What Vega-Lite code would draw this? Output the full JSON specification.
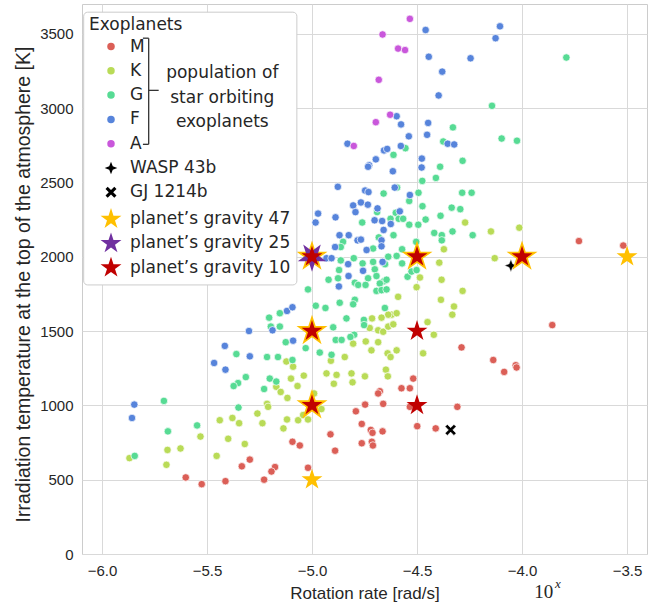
{
"$schema": "https://vega.github.io/schema/vega-lite/v6.json",
"width": 565, "height": 550,
"autosize": {"type": "none"},
"padding": {"left": 82, "top": 4, "right": 17, "bottom": 52},
"background": "white",
"config": {
  "view": {"stroke": "#cccccc", "strokeWidth": 1},
  "axis": {"labelFont": "Liberation Sans", "labelFontSize": 15, "labelColor": "#262626", "titleFont": "Liberation Sans", "titleFontSize": 17, "titleFontWeight": "normal", "titleColor": "#262626", "gridColor": "#d9d9d9", "domain": false, "ticks": false, "labelPadding": 9}
},
"datasets": {
"pts": [
{"x":-3.729,"y":2105,"cat":"M"},{"x":-3.518,"y":2075,"cat":"M"},{"x":-4.288,"y":1390,"cat":"M"},{"x":-3.856,"y":1540,"cat":"M"},{"x":-4.137,"y":1305,"cat":"M"},{"x":-4.030,"y":1270,"cat":"M"},{"x":-4.026,"y":1255,"cat":"M"},{"x":-4.085,"y":1225,"cat":"M"},{"x":-4.518,"y":1180,"cat":"M"},{"x":-4.574,"y":1115,"cat":"M"},{"x":-4.534,"y":1115,"cat":"M"},{"x":-4.677,"y":1095,"cat":"M"},{"x":-4.685,"y":1080,"cat":"M"},{"x":-4.747,"y":1005,"cat":"M"},{"x":-4.661,"y":1010,"cat":"M"},{"x":-4.791,"y":960,"cat":"M"},{"x":-4.308,"y":990,"cat":"M"},{"x":-4.499,"y":860,"cat":"M"},{"x":-4.411,"y":845,"cat":"M"},{"x":-4.763,"y":875,"cat":"M"},{"x":-4.720,"y":835,"cat":"M"},{"x":-4.712,"y":815,"cat":"M"},{"x":-4.664,"y":825,"cat":"M"},{"x":-4.763,"y":745,"cat":"M"},{"x":-4.715,"y":755,"cat":"M"},{"x":-4.710,"y":730,"cat":"M"},{"x":-4.534,"y":990,"cat":"M"},{"x":-5.093,"y":755,"cat":"M"},{"x":-5.058,"y":730,"cat":"M"},{"x":-4.912,"y":805,"cat":"M"},{"x":-4.890,"y":695,"cat":"M"},{"x":-5.296,"y":635,"cat":"M"},{"x":-5.334,"y":590,"cat":"M"},{"x":-5.176,"y":585,"cat":"M"},{"x":-5.193,"y":555,"cat":"M"},{"x":-5.228,"y":500,"cat":"M"},{"x":-5.412,"y":490,"cat":"M"},{"x":-5.525,"y":470,"cat":"M"},{"x":-5.601,"y":515,"cat":"M"},{"x":-5.019,"y":580,"cat":"M"},
{"x":-4.271,"y":2230,"cat":"K"},{"x":-4.148,"y":2170,"cat":"K"},{"x":-4.013,"y":2195,"cat":"K"},{"x":-4.372,"y":2050,"cat":"K"},{"x":-4.394,"y":1960,"cat":"K"},{"x":-4.130,"y":1990,"cat":"K"},{"x":-5.122,"y":1295,"cat":"K"},{"x":-5.090,"y":1260,"cat":"K"},{"x":-5.100,"y":1180,"cat":"K"},{"x":-5.069,"y":1130,"cat":"K"},{"x":-5.039,"y":1200,"cat":"K"},{"x":-5.170,"y":1125,"cat":"K"},{"x":-5.149,"y":1090,"cat":"K"},{"x":-5.117,"y":1050,"cat":"K"},{"x":-5.214,"y":1010,"cat":"K"},{"x":-5.209,"y":990,"cat":"K"},{"x":-5.260,"y":945,"cat":"K"},{"x":-5.236,"y":880,"cat":"K"},{"x":-5.379,"y":915,"cat":"K"},{"x":-5.347,"y":880,"cat":"K"},{"x":-5.439,"y":900,"cat":"K"},{"x":-5.399,"y":775,"cat":"K"},{"x":-5.320,"y":740,"cat":"K"},{"x":-5.454,"y":660,"cat":"K"},{"x":-5.119,"y":905,"cat":"K"},{"x":-5.136,"y":845,"cat":"K"},{"x":-5.066,"y":900,"cat":"K"},{"x":-5.042,"y":935,"cat":"K"},{"x":-5.019,"y":905,"cat":"K"},{"x":-4.990,"y":1080,"cat":"K"},{"x":-4.955,"y":975,"cat":"K"},{"x":-5.531,"y":790,"cat":"K"},{"x":-5.688,"y":700,"cat":"K"},{"x":-5.626,"y":710,"cat":"K"},{"x":-5.693,"y":600,"cat":"K"},{"x":-5.869,"y":645,"cat":"K"},{"x":-4.931,"y":1215,"cat":"K"},{"x":-4.883,"y":1205,"cat":"K"},{"x":-4.844,"y":1325,"cat":"K"},{"x":-4.812,"y":1215,"cat":"K"},{"x":-4.807,"y":1155,"cat":"K"},{"x":-4.748,"y":1195,"cat":"K"},{"x":-4.896,"y":1145,"cat":"K"},{"x":-4.714,"y":1585,"cat":"K"},{"x":-4.725,"y":1520,"cat":"K"},{"x":-4.717,"y":1370,"cat":"K"},{"x":-4.744,"y":1430,"cat":"K"},{"x":-4.804,"y":1415,"cat":"K"},{"x":-4.910,"y":1300,"cat":"K"},{"x":-4.486,"y":1860,"cat":"K"},{"x":-4.502,"y":1795,"cat":"K"},{"x":-4.383,"y":1845,"cat":"K"},{"x":-4.590,"y":1730,"cat":"K"},{"x":-4.283,"y":1770,"cat":"K"},{"x":-4.386,"y":1710,"cat":"K"},{"x":-4.324,"y":1665,"cat":"K"},{"x":-4.332,"y":1610,"cat":"K"},{"x":-4.621,"y":1610,"cat":"K"},{"x":-4.597,"y":1620,"cat":"K"},{"x":-4.637,"y":1610,"cat":"K"},{"x":-4.669,"y":1590,"cat":"K"},{"x":-4.685,"y":1505,"cat":"K"},{"x":-4.661,"y":1495,"cat":"K"},{"x":-4.637,"y":1530,"cat":"K"},{"x":-4.613,"y":1545,"cat":"K"},{"x":-4.685,"y":1425,"cat":"K"},{"x":-4.640,"y":1350,"cat":"K"},{"x":-4.597,"y":1370,"cat":"K"},{"x":-4.471,"y":1350,"cat":"K"},{"x":-4.420,"y":1475,"cat":"K"},{"x":-4.450,"y":1560,"cat":"K"},{"x":-4.648,"y":1240,"cat":"K"},{"x":-4.639,"y":1195,"cat":"K"},{"x":-4.626,"y":1325,"cat":"K"},
{"x":-3.789,"y":3340,"cat":"G"},{"x":-4.143,"y":3015,"cat":"G"},{"x":-4.329,"y":2870,"cat":"G"},{"x":-4.097,"y":2795,"cat":"G"},{"x":-4.024,"y":2780,"cat":"G"},{"x":-4.375,"y":2775,"cat":"G"},{"x":-4.555,"y":2730,"cat":"G"},{"x":-4.612,"y":2685,"cat":"G"},{"x":-4.283,"y":2645,"cat":"G"},{"x":-4.390,"y":2605,"cat":"G"},{"x":-4.410,"y":2530,"cat":"G"},{"x":-4.475,"y":2510,"cat":"G"},{"x":-4.595,"y":2465,"cat":"G"},{"x":-4.659,"y":2425,"cat":"G"},{"x":-4.493,"y":2430,"cat":"G"},{"x":-4.285,"y":2430,"cat":"G"},{"x":-4.240,"y":2430,"cat":"G"},{"x":-4.537,"y":2375,"cat":"G"},{"x":-4.474,"y":2340,"cat":"G"},{"x":-4.690,"y":2300,"cat":"G"},{"x":-4.601,"y":2295,"cat":"G"},{"x":-4.335,"y":2330,"cat":"G"},{"x":-4.294,"y":2320,"cat":"G"},{"x":-4.761,"y":2230,"cat":"G"},{"x":-4.626,"y":2255,"cat":"G"},{"x":-4.587,"y":2255,"cat":"G"},{"x":-4.566,"y":2255,"cat":"G"},{"x":-4.537,"y":2215,"cat":"G"},{"x":-4.494,"y":2215,"cat":"G"},{"x":-4.459,"y":2250,"cat":"G"},{"x":-4.388,"y":2275,"cat":"G"},{"x":-4.682,"y":2130,"cat":"G"},{"x":-4.612,"y":2145,"cat":"G"},{"x":-4.418,"y":2160,"cat":"G"},{"x":-4.382,"y":2145,"cat":"G"},{"x":-4.382,"y":2110,"cat":"G"},{"x":-4.331,"y":2170,"cat":"G"},{"x":-4.235,"y":2145,"cat":"G"},{"x":-4.852,"y":2100,"cat":"G"},{"x":-4.504,"y":2100,"cat":"G"},{"x":-4.863,"y":2065,"cat":"G"},{"x":-4.709,"y":2055,"cat":"G"},{"x":-4.637,"y":2000,"cat":"G"},{"x":-4.597,"y":2005,"cat":"G"},{"x":-4.571,"y":2050,"cat":"G"},{"x":-4.801,"y":1990,"cat":"G"},{"x":-4.759,"y":1955,"cat":"G"},{"x":-4.709,"y":1965,"cat":"G"},{"x":-4.652,"y":1950,"cat":"G"},{"x":-4.571,"y":1955,"cat":"G"},{"x":-4.863,"y":1975,"cat":"G"},{"x":-4.701,"y":1915,"cat":"G"},{"x":-4.693,"y":1870,"cat":"G"},{"x":-4.733,"y":1855,"cat":"G"},{"x":-4.657,"y":1835,"cat":"G"},{"x":-4.645,"y":1845,"cat":"G"},{"x":-4.677,"y":1820,"cat":"G"},{"x":-4.693,"y":1770,"cat":"G"},{"x":-4.669,"y":1775,"cat":"G"},{"x":-4.645,"y":1780,"cat":"G"},{"x":-4.545,"y":1865,"cat":"G"},{"x":-4.526,"y":1900,"cat":"G"},{"x":-4.502,"y":1910,"cat":"G"},{"x":-4.871,"y":1910,"cat":"G"},{"x":-4.876,"y":1855,"cat":"G"},{"x":-4.921,"y":1845,"cat":"G"},{"x":-4.796,"y":1825,"cat":"G"},{"x":-4.780,"y":1810,"cat":"G"},{"x":-4.745,"y":1810,"cat":"G"},{"x":-5.019,"y":1780,"cat":"G"},{"x":-4.982,"y":1670,"cat":"G"},{"x":-4.936,"y":1655,"cat":"G"},{"x":-5.153,"y":1620,"cat":"G"},{"x":-5.204,"y":1590,"cat":"G"},{"x":-5.196,"y":1530,"cat":"G"},{"x":-5.153,"y":1530,"cat":"G"},{"x":-4.899,"y":1525,"cat":"G"},{"x":-5.125,"y":1425,"cat":"G"},{"x":-5.030,"y":1385,"cat":"G"},{"x":-4.963,"y":1355,"cat":"G"},{"x":-5.360,"y":1345,"cat":"G"},{"x":-5.214,"y":1325,"cat":"G"},{"x":-5.162,"y":1325,"cat":"G"},{"x":-5.093,"y":1305,"cat":"G"},{"x":-4.907,"y":1340,"cat":"G"},{"x":-5.315,"y":1190,"cat":"G"},{"x":-5.352,"y":1150,"cat":"G"},{"x":-5.373,"y":1130,"cat":"G"},{"x":-5.201,"y":1180,"cat":"G"},{"x":-5.170,"y":1160,"cat":"G"},{"x":-5.228,"y":1110,"cat":"G"},{"x":-5.350,"y":985,"cat":"G"},{"x":-5.547,"y":865,"cat":"G"},{"x":-5.686,"y":825,"cat":"G"},{"x":-5.705,"y":1030,"cat":"G"},{"x":-5.844,"y":660,"cat":"G"},{"x":-4.799,"y":1475,"cat":"G"},{"x":-4.817,"y":1460,"cat":"G"},{"x":-4.753,"y":1575,"cat":"G"},{"x":-4.836,"y":1585,"cat":"G"},{"x":-4.887,"y":1440,"cat":"G"},{"x":-4.859,"y":1440,"cat":"G"},{"x":-4.796,"y":1710,"cat":"G"},{"x":-4.804,"y":1680,"cat":"G"},{"x":-4.868,"y":1690,"cat":"G"},{"x":-4.653,"y":1655,"cat":"G"},{"x":-4.752,"y":1540,"cat":"G"},
{"x":-4.459,"y":3525,"cat":"F"},{"x":-4.105,"y":3550,"cat":"F"},{"x":-4.126,"y":3470,"cat":"F"},{"x":-4.444,"y":3345,"cat":"F"},{"x":-4.245,"y":3335,"cat":"F"},{"x":-4.380,"y":3245,"cat":"F"},{"x":-4.397,"y":3085,"cat":"F"},{"x":-4.597,"y":2945,"cat":"F"},{"x":-4.576,"y":2890,"cat":"F"},{"x":-4.447,"y":2900,"cat":"F"},{"x":-4.539,"y":2810,"cat":"F"},{"x":-4.452,"y":2820,"cat":"F"},{"x":-4.831,"y":2760,"cat":"F"},{"x":-4.354,"y":2760,"cat":"F"},{"x":-4.323,"y":2755,"cat":"F"},{"x":-4.657,"y":2715,"cat":"F"},{"x":-4.642,"y":2725,"cat":"F"},{"x":-4.577,"y":2745,"cat":"F"},{"x":-4.696,"y":2655,"cat":"F"},{"x":-4.477,"y":2660,"cat":"F"},{"x":-4.728,"y":2615,"cat":"F"},{"x":-4.733,"y":2605,"cat":"F"},{"x":-4.478,"y":2600,"cat":"F"},{"x":-4.615,"y":2575,"cat":"F"},{"x":-4.877,"y":2470,"cat":"F"},{"x":-4.606,"y":2465,"cat":"F"},{"x":-4.747,"y":2445,"cat":"F"},{"x":-4.731,"y":2435,"cat":"F"},{"x":-4.534,"y":2415,"cat":"F"},{"x":-4.767,"y":2365,"cat":"F"},{"x":-4.804,"y":2345,"cat":"F"},{"x":-4.734,"y":2350,"cat":"F"},{"x":-4.688,"y":2325,"cat":"F"},{"x":-4.793,"y":2300,"cat":"F"},{"x":-4.582,"y":2305,"cat":"F"},{"x":-4.971,"y":2290,"cat":"F"},{"x":-4.983,"y":2230,"cat":"F"},{"x":-4.888,"y":2265,"cat":"F"},{"x":-4.702,"y":2245,"cat":"F"},{"x":-4.666,"y":2240,"cat":"F"},{"x":-4.625,"y":2220,"cat":"F"},{"x":-4.659,"y":2180,"cat":"F"},{"x":-4.869,"y":2145,"cat":"F"},{"x":-4.825,"y":2145,"cat":"F"},{"x":-4.783,"y":2110,"cat":"F"},{"x":-4.767,"y":2115,"cat":"F"},{"x":-4.669,"y":2110,"cat":"F"},{"x":-4.669,"y":2070,"cat":"F"},{"x":-4.890,"y":2065,"cat":"F"},{"x":-4.740,"y":2045,"cat":"F"},{"x":-4.931,"y":1990,"cat":"F"},{"x":-4.907,"y":1990,"cat":"F"},{"x":-4.828,"y":1950,"cat":"F"},{"x":-4.757,"y":1905,"cat":"F"},{"x":-4.664,"y":1965,"cat":"F"},{"x":-4.826,"y":1870,"cat":"F"},{"x":-4.872,"y":1800,"cat":"F"},{"x":-5.119,"y":1635,"cat":"F"},{"x":-5.093,"y":1660,"cat":"F"},{"x":-5.300,"y":1500,"cat":"F"},{"x":-5.188,"y":1505,"cat":"F"},{"x":-5.090,"y":1435,"cat":"F"},{"x":-5.415,"y":1400,"cat":"F"},{"x":-5.296,"y":1330,"cat":"F"},{"x":-5.466,"y":1285,"cat":"F"},{"x":-5.412,"y":1240,"cat":"F"},{"x":-5.846,"y":1005,"cat":"F"},{"x":-5.857,"y":915,"cat":"F"},
{"x":-4.534,"y":3600,"cat":"A"},{"x":-4.664,"y":3495,"cat":"A"},{"x":-4.590,"y":3400,"cat":"A"},{"x":-4.557,"y":3390,"cat":"A"},{"x":-4.682,"y":3190,"cat":"A"},{"x":-4.628,"y":2955,"cat":"A"},{"x":-4.696,"y":2905,"cat":"A"},{"x":-4.801,"y":2745,"cat":"A"}
],
"special": [
{"x":-4.053,"y":1940,"cat":"WASP 43b"},{"x":-4.340,"y":835,"cat":"GJ 1214b"}
],
"stars": [
{"x":-5.0,"y":2000,"cat":"planet’s gravity 47"},{"x":-4.5,"y":2000,"cat":"planet’s gravity 47"},{"x":-4.0,"y":2000,"cat":"planet’s gravity 47"},{"x":-3.5,"y":2000,"cat":"planet’s gravity 47"},{"x":-5.0,"y":1500,"cat":"planet’s gravity 47"},{"x":-5.0,"y":1000,"cat":"planet’s gravity 47"},{"x":-5.0,"y":500,"cat":"planet’s gravity 47"},
{"x":-5.0,"y":2000,"cat":"planet’s gravity 25"},
{"x":-5.0,"y":2000,"cat":"planet’s gravity 10"},{"x":-4.5,"y":2000,"cat":"planet’s gravity 10"},{"x":-4.0,"y":2000,"cat":"planet’s gravity 10"},{"x":-5.0,"y":1500,"cat":"planet’s gravity 10"},{"x":-5.0,"y":1000,"cat":"planet’s gravity 10"},{"x":-4.5,"y":1500,"cat":"planet’s gravity 10"},{"x":-4.5,"y":1000,"cat":"planet’s gravity 10"}
],
"one": [{}]
},
"layer": [
{
  "data": {"name": "pts"},
  "mark": {"type": "point", "filled": true, "opacity": 1, "stroke": "white", "strokeWidth": 0.7},
  "encoding": {
    "x": {"field": "x", "type": "quantitative", "scale": {"domain": [-6.095, -3.405], "nice": false, "zero": false},
          "axis": {"title": "Rotation rate [rad/s]", "values": [-6, -5.5, -5, -4.5, -4, -3.5], "format": ".1f", "titlePadding": 7}},
    "y": {"field": "y", "type": "quantitative", "scale": {"domain": [0, 3700], "nice": false, "zero": false},
          "axis": {"title": "Irradiation temperature at the top of the atmosphere [K]", "titleFontSize": 19.5, "titleY": 280, "format": "d", "values": [0, 500, 1000, 1500, 2000, 2500, 3000, 3500], "titlePadding": 6}},
    "color": {"field": "cat", "type": "nominal",
      "scale": {"domain": ["M", "K", "G", "F", "A", "WASP 43b", "GJ 1214b", "planet’s gravity 47", "planet’s gravity 25", "planet’s gravity 10"],
                "range": ["#db5f57", "#b9db57", "#57db94", "#5784db", "#c957db", "#000000", "#000000", "#ffc000", "#7030a0", "#c00000"]},
      "legend": {"title": "Exoplanets", "orient": "none", "legendX": 7, "legendY": 13, "padding": 0,
                 "titleFont": "DejaVu Sans", "titleFontSize": 17, "titleFontWeight": "normal", "titleColor": "#262626", "titlePadding": 4,
                 "labelFont": "DejaVu Sans", "labelFontSize": 17, "labelColor": "#262626", "labelLimit": 400,
                 "gridAlign": "all", "symbolOffset": 11, "labelOffset": 8, "rowPadding": 3.3, "symbolStrokeWidth": 0, "symbolOpacity": 1}},
    "shape": {"field": "cat", "type": "nominal",
      "scale": {"domain": ["M", "K", "G", "F", "A", "WASP 43b", "GJ 1214b", "planet’s gravity 47", "planet’s gravity 25", "planet’s gravity 10"],
                "range": ["circle", "circle", "circle", "circle", "circle",
                          "M0,-1L0.28,-0.28L1,0L0.28,0.28L0,1L-0.28,0.28L-1,0L-0.28,-0.28Z",
                          "M-1,-0.6L-0.6,-1L0,-0.4L0.6,-1L1,-0.6L0.4,0L1,0.6L0.6,1L0,0.4L-0.6,1L-1,0.6L-0.4,0Z",
                          "M0,-1L0.225,-0.309L0.951,-0.309L0.363,0.118L0.588,0.809L0,0.382L-0.588,0.809L-0.363,0.118L-0.951,-0.309L-0.225,-0.309Z",
                          "M0,-1L0.225,-0.309L0.951,-0.309L0.363,0.118L0.588,0.809L0,0.382L-0.588,0.809L-0.363,0.118L-0.951,-0.309L-0.225,-0.309Z",
                          "M0,-1L0.225,-0.309L0.951,-0.309L0.363,0.118L0.588,0.809L0,0.382L-0.588,0.809L-0.363,0.118L-0.951,-0.309L-0.225,-0.309Z"]}},
    "size": {"field": "cat", "type": "nominal",
      "scale": {"type": "ordinal", "domain": ["M", "K", "G", "F", "A", "WASP 43b", "GJ 1214b", "planet’s gravity 47", "planet’s gravity 25", "planet’s gravity 10"],
                "range": [56, 56, 56, 56, 56, 160, 121, 484, 484, 484]}}
  }
},
{
  "data": {"name": "special"},
  "mark": {"type": "point", "filled": true, "opacity": 1, "stroke": "white", "strokeWidth": 0.5},
  "encoding": {
    "x": {"field": "x", "type": "quantitative"},
    "y": {"field": "y", "type": "quantitative"},
    "color": {"field": "cat", "type": "nominal",
      "scale": {"domain": ["M", "K", "G", "F", "A", "WASP 43b", "GJ 1214b", "planet’s gravity 47", "planet’s gravity 25", "planet’s gravity 10"],
                "range": ["#db5f57", "#b9db57", "#57db94", "#5784db", "#c957db", "#000000", "#000000", "#ffc000", "#7030a0", "#c00000"]}},
    "shape": {"field": "cat", "type": "nominal",
      "scale": {"domain": ["M", "K", "G", "F", "A", "WASP 43b", "GJ 1214b", "planet’s gravity 47", "planet’s gravity 25", "planet’s gravity 10"],
                "range": ["circle", "circle", "circle", "circle", "circle",
                          "M0,-1L0.28,-0.28L1,0L0.28,0.28L0,1L-0.28,0.28L-1,0L-0.28,-0.28Z",
                          "M-1,-0.6L-0.6,-1L0,-0.4L0.6,-1L1,-0.6L0.4,0L1,0.6L0.6,1L0,0.4L-0.6,1L-1,0.6L-0.4,0Z",
                          "M0,-1L0.225,-0.309L0.951,-0.309L0.363,0.118L0.588,0.809L0,0.382L-0.588,0.809L-0.363,0.118L-0.951,-0.309L-0.225,-0.309Z",
                          "M0,-1L0.225,-0.309L0.951,-0.309L0.363,0.118L0.588,0.809L0,0.382L-0.588,0.809L-0.363,0.118L-0.951,-0.309L-0.225,-0.309Z",
                          "M0,-1L0.225,-0.309L0.951,-0.309L0.363,0.118L0.588,0.809L0,0.382L-0.588,0.809L-0.363,0.118L-0.951,-0.309L-0.225,-0.309Z"]}},
    "size": {"field": "cat", "type": "nominal",
      "scale": {"type": "ordinal", "domain": ["M", "K", "G", "F", "A", "WASP 43b", "GJ 1214b", "planet’s gravity 47", "planet’s gravity 25", "planet’s gravity 10"],
                "range": [56, 56, 56, 56, 56, 160, 121, 484, 484, 484]}}
  }
},
{
  "data": {"name": "stars"},
  "transform": [
    {"joinaggregate": [{"op": "count", "as": "n"}], "groupby": ["x", "y"]},
    {"filter": "datum.cat === 'planet’s gravity 47'"}
  ],
  "mark": {"type": "point", "filled": true, "opacity": 1, "strokeWidth": 0},
  "encoding": {
    "x": {"field": "x", "type": "quantitative"},
    "y": {"field": "y", "type": "quantitative"},
    "color": {"field": "cat", "type": "nominal",
      "scale": {"domain": ["M", "K", "G", "F", "A", "WASP 43b", "GJ 1214b", "planet’s gravity 47", "planet’s gravity 25", "planet’s gravity 10"],
                "range": ["#db5f57", "#b9db57", "#57db94", "#5784db", "#c957db", "#000000", "#000000", "#ffc000", "#7030a0", "#c00000"]}},
    "shape": {"field": "cat", "type": "nominal",
      "scale": {"domain": ["M", "K", "G", "F", "A", "WASP 43b", "GJ 1214b", "planet’s gravity 47", "planet’s gravity 25", "planet’s gravity 10"],
                "range": ["circle", "circle", "circle", "circle", "circle",
                          "M0,-1L0.28,-0.28L1,0L0.28,0.28L0,1L-0.28,0.28L-1,0L-0.28,-0.28Z",
                          "M-1,-0.6L-0.6,-1L0,-0.4L0.6,-1L1,-0.6L0.4,0L1,0.6L0.6,1L0,0.4L-0.6,1L-1,0.6L-0.4,0Z",
                          "M0,-1L0.225,-0.309L0.951,-0.309L0.363,0.118L0.588,0.809L0,0.382L-0.588,0.809L-0.363,0.118L-0.951,-0.309L-0.225,-0.309Z",
                          "M0,-1L0.225,-0.309L0.951,-0.309L0.363,0.118L0.588,0.809L0,0.382L-0.588,0.809L-0.363,0.118L-0.951,-0.309L-0.225,-0.309Z",
                          "M0,-1L0.225,-0.309L0.951,-0.309L0.363,0.118L0.588,0.809L0,0.382L-0.588,0.809L-0.363,0.118L-0.951,-0.309L-0.225,-0.309Z"]}},
    "size": {"condition": {"test": "datum.n > 1", "value": 1060}, "field": "cat", "type": "nominal",
      "scale": {"type": "ordinal", "domain": ["M", "K", "G", "F", "A", "WASP 43b", "GJ 1214b", "planet’s gravity 47", "planet’s gravity 25", "planet’s gravity 10"],
                "range": [56, 56, 56, 56, 56, 160, 121, 484, 484, 484]}}
  }
},
{
  "data": {"name": "stars"},
  "transform": [{"filter": "datum.cat === 'planet’s gravity 25'"}],
  "mark": {"type": "point", "filled": true, "opacity": 1, "strokeWidth": 0, "angle": 36, "size": 900},
  "encoding": {
    "x": {"field": "x", "type": "quantitative"},
    "y": {"field": "y", "type": "quantitative"},
    "color": {"field": "cat", "type": "nominal",
      "scale": {"domain": ["M", "K", "G", "F", "A", "WASP 43b", "GJ 1214b", "planet’s gravity 47", "planet’s gravity 25", "planet’s gravity 10"],
                "range": ["#db5f57", "#b9db57", "#57db94", "#5784db", "#c957db", "#000000", "#000000", "#ffc000", "#7030a0", "#c00000"]}},
    "shape": {"field": "cat", "type": "nominal",
      "scale": {"domain": ["M", "K", "G", "F", "A", "WASP 43b", "GJ 1214b", "planet’s gravity 47", "planet’s gravity 25", "planet’s gravity 10"],
                "range": ["circle", "circle", "circle", "circle", "circle",
                          "M0,-1L0.28,-0.28L1,0L0.28,0.28L0,1L-0.28,0.28L-1,0L-0.28,-0.28Z",
                          "M-1,-0.6L-0.6,-1L0,-0.4L0.6,-1L1,-0.6L0.4,0L1,0.6L0.6,1L0,0.4L-0.6,1L-1,0.6L-0.4,0Z",
                          "M0,-1L0.225,-0.309L0.951,-0.309L0.363,0.118L0.588,0.809L0,0.382L-0.588,0.809L-0.363,0.118L-0.951,-0.309L-0.225,-0.309Z",
                          "M0,-1L0.225,-0.309L0.951,-0.309L0.363,0.118L0.588,0.809L0,0.382L-0.588,0.809L-0.363,0.118L-0.951,-0.309L-0.225,-0.309Z",
                          "M0,-1L0.225,-0.309L0.951,-0.309L0.363,0.118L0.588,0.809L0,0.382L-0.588,0.809L-0.363,0.118L-0.951,-0.309L-0.225,-0.309Z"]}}
  }
},
{
  "data": {"name": "stars"},
  "transform": [{"filter": "datum.cat === 'planet’s gravity 10'"}],
  "mark": {"type": "point", "filled": true, "opacity": 1, "strokeWidth": 0},
  "encoding": {
    "x": {"field": "x", "type": "quantitative"},
    "y": {"field": "y", "type": "quantitative"},
    "color": {"field": "cat", "type": "nominal",
      "scale": {"domain": ["M", "K", "G", "F", "A", "WASP 43b", "GJ 1214b", "planet’s gravity 47", "planet’s gravity 25", "planet’s gravity 10"],
                "range": ["#db5f57", "#b9db57", "#57db94", "#5784db", "#c957db", "#000000", "#000000", "#ffc000", "#7030a0", "#c00000"]}},
    "shape": {"field": "cat", "type": "nominal",
      "scale": {"domain": ["M", "K", "G", "F", "A", "WASP 43b", "GJ 1214b", "planet’s gravity 47", "planet’s gravity 25", "planet’s gravity 10"],
                "range": ["circle", "circle", "circle", "circle", "circle",
                          "M0,-1L0.28,-0.28L1,0L0.28,0.28L0,1L-0.28,0.28L-1,0L-0.28,-0.28Z",
                          "M-1,-0.6L-0.6,-1L0,-0.4L0.6,-1L1,-0.6L0.4,0L1,0.6L0.6,1L0,0.4L-0.6,1L-1,0.6L-0.4,0Z",
                          "M0,-1L0.225,-0.309L0.951,-0.309L0.363,0.118L0.588,0.809L0,0.382L-0.588,0.809L-0.363,0.118L-0.951,-0.309L-0.225,-0.309Z",
                          "M0,-1L0.225,-0.309L0.951,-0.309L0.363,0.118L0.588,0.809L0,0.382L-0.588,0.809L-0.363,0.118L-0.951,-0.309L-0.225,-0.309Z",
                          "M0,-1L0.225,-0.309L0.951,-0.309L0.363,0.118L0.588,0.809L0,0.382L-0.588,0.809L-0.363,0.118L-0.951,-0.309L-0.225,-0.309Z"]}},
    "size": {"field": "cat", "type": "nominal",
      "scale": {"type": "ordinal", "domain": ["M", "K", "G", "F", "A", "WASP 43b", "GJ 1214b", "planet’s gravity 47", "planet’s gravity 25", "planet’s gravity 10"],
                "range": [56, 56, 56, 56, 56, 160, 121, 484, 484, 484]}}
  }
},
{
  "data": {"name": "one"},
  "mark": {"type": "rect", "fill": "white", "fillOpacity": 1, "stroke": "#cccccc", "strokeWidth": 1, "cornerRadius": 4},
  "encoding": {"x": {"datum": -6.087}, "x2": {"datum": -5.072}, "y": {"datum": 3645}, "y2": {"datum": 1810}}
},
{
  "data": {"name": "one"},
  "mark": {"type": "rule", "color": "#333333", "strokeWidth": 1.3},
  "encoding": {"x": {"datum": -5.7775}, "y": {"datum": 3470}, "y2": {"datum": 2756}}
},
{
  "data": {"name": "one"},
  "mark": {"type": "rule", "color": "#333333", "strokeWidth": 1.3},
  "encoding": {"x": {"datum": -5.805}, "x2": {"datum": -5.7775}, "y": {"datum": 3470}}
},
{
  "data": {"name": "one"},
  "mark": {"type": "rule", "color": "#333333", "strokeWidth": 1.3},
  "encoding": {"x": {"datum": -5.805}, "x2": {"datum": -5.7775}, "y": {"datum": 2756}}
},
{
  "data": {"name": "one"},
  "mark": {"type": "rule", "color": "#333333", "strokeWidth": 1.3},
  "encoding": {"x": {"datum": -5.7775}, "x2": {"datum": -5.730}, "y": {"datum": 3119}}
},
{
  "data": {"name": "one"},
  "mark": {"type": "text", "text": ["population of", "star orbiting", "exoplanets"], "lineHeight": 24.5, "align": "center", "baseline": "middle", "font": "DejaVu Sans", "fontSize": 17, "color": "#262626"},
  "encoding": {"x": {"datum": -5.427}, "y": {"datum": 3233}}
},
{
  "data": {"name": "one"},
  "mark": {"type": "text", "text": "10", "align": "center", "baseline": "middle", "font": "Liberation Serif", "fontSize": 19, "color": "#262626"},
  "encoding": {"x": {"datum": -3.896}, "y": {"datum": -253}}
},
{
  "data": {"name": "one"},
  "mark": {"type": "text", "text": "x", "align": "center", "baseline": "middle", "font": "Liberation Serif", "fontStyle": "italic", "fontSize": 13, "color": "#262626", "dx": 14, "dy": -8},
  "encoding": {"x": {"datum": -3.896}, "y": {"datum": -253}}
}
]
}
